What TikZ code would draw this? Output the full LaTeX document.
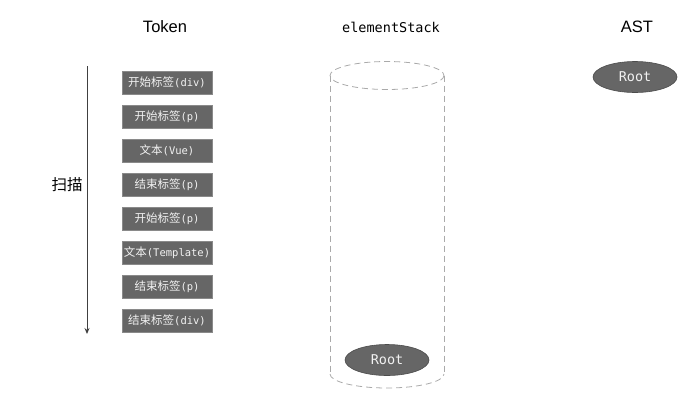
\documentclass[tikz,border=0pt]{standalone}
\usepackage{fontspec}
\setmainfont{Liberation Sans}
\newfontfamily\cjk{Noto Sans CJK SC}
\newfontfamily\mono{DejaVu Sans Mono}
\usetikzlibrary{arrows.meta,shapes.geometric}
\definecolor{boxfill}{HTML}{666666}
\definecolor{boxline}{HTML}{8A8A8A}
\definecolor{dashgray}{HTML}{AAAAAA}
\definecolor{boxtext}{HTML}{F2F2F2}
\tikzset{
  tokenbox/.style={draw=boxline, fill=boxfill, line width=0.8pt, minimum width=90pt, minimum height=23pt, inner sep=0pt, text=boxtext, font=\fontsize{11}{12}\selectfont},
  rootnode/.style={ellipse, draw=black!70, fill=boxfill, line width=0.6pt, minimum width=84pt, minimum height=31pt, inner sep=0pt, text=boxtext, font=\mono\fontsize{13.5}{14}\selectfont},
  title/.style={font=\fontsize{16.5}{18}\selectfont, text=black},
  stackline/.style={draw=dashgray, dash pattern=on 6pt off 4pt, line width=0.8pt},
}
\newcommand{\tk}[2]{{\cjk\fontsize{11.5}{12}\selectfont #1}{\mono\fontsize{10.5}{12}\selectfont #2}}
\begin{document}
\begin{tikzpicture}[x=1pt,y=-1pt]
\useasboundingbox (0,0) rectangle (700,410);
% titles
\node[title] (ttoken) at (165,27) {Token};
\node[title, font=\mono\fontsize{13.5}{15}\selectfont] (tstack) at (391,27) {elementStack};
\node[title] (tast) at (637,27) {AST};
% token boxes
\node[tokenbox] (b1) at (167,82.5) {\tk{开始标签}{(div)}};
\node[tokenbox] (b2) at (167,116.5) {\tk{开始标签}{(p)}};
\node[tokenbox] (b3) at (167,150.5) {\tk{文本}{(Vue)}};
\node[tokenbox] (b4) at (167,184.5) {\tk{结束标签}{(p)}};
\node[tokenbox] (b5) at (167,218.5) {\tk{开始标签}{(p)}};
\node[tokenbox] (b6) at (167,252.5) {\tk{文本}{(Template)}};
\node[tokenbox] (b7) at (167,286.5) {\tk{结束标签}{(p)}};
\node[tokenbox] (b8) at (167,320.5) {\tk{结束标签}{(div)}};
% scan arrow
\coordinate (sa) at (87,66);
\coordinate (sb) at (87,334);
\draw[black!75, line width=0.9pt, -{Stealth[length=6pt,width=5pt]}] (sa) -- (sb);
\node[font=\cjk\fontsize{15.5}{17}\selectfont] (scan) at (67,185) {扫描};
% cylinder
\draw[stackline] (387,75.5) ellipse [x radius=57, y radius=14];
\draw[stackline] (330,75.5) -- (330,374);
\draw[stackline] (444,75.5) -- (444,374);
\draw[stackline] (330,374) arc[start angle=180, end angle=360, x radius=57, y radius=-14];
% roots
\node[rootnode] (rstack) at (387,360) {Root};
\node[rootnode] (rast) at (635,77) {Root};
\end{tikzpicture}
\end{document}
